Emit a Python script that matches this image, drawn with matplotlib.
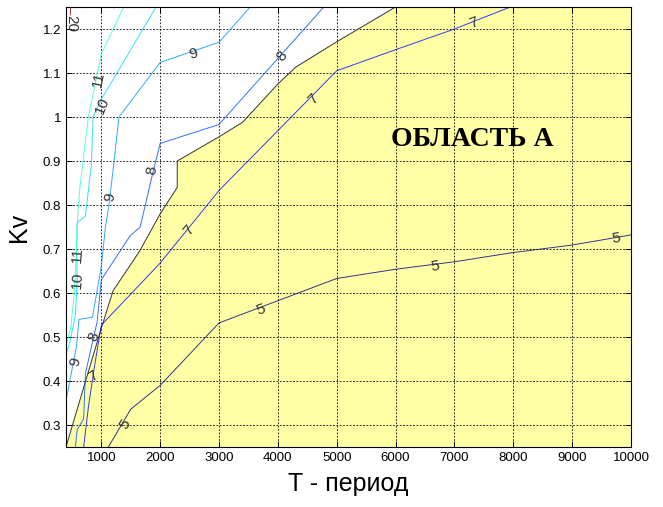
import matplotlib
matplotlib.use('Agg')
import matplotlib.pyplot as plt
from matplotlib import colors as mcolors

# boundary of region A (T, Kv); region lies below/right of this line
area_T = [400, 1000, 1200, 1650, 2000, 2290, 2290, 3000, 3400, 4000, 4300, 5000, 6000]
area_Kv = [0.25, 0.52, 0.605, 0.695, 0.78, 0.84, 0.90, 0.955, 0.988, 1.075, 1.113, 1.171, 1.25]

# contour levels of Kv(T)
levels = [5, 7, 8, 9, 10, 11, 20]

c5_T = [1120, 1500, 2000, 3000, 5000, 6000, 7000, 8000, 9000, 10000]
c5_Kv = [0.25, 0.336, 0.39, 0.532, 0.633, 0.654, 0.671, 0.692, 0.709, 0.732]

c7_T = [7950, 7000, 6000, 5000, 3000, 2000, 1000, 880, 780, 700]
c7_Kv = [1.25, 1.2, 1.153, 1.105, 0.833, 0.668, 0.527, 0.43, 0.34, 0.25]

c8_T = [4780, 3000, 2000, 1870, 1660, 1490, 1000, 930, 870, 730, 700, 590, 560]
c8_Kv = [1.25, 0.983, 0.94, 0.87, 0.75, 0.73, 0.63, 0.535, 0.50, 0.417, 0.314, 0.29, 0.25]

c9_T = [3530, 3000, 2000, 1300, 1200, 1130, 1070, 1000, 850, 620, 580, 400]
c9_Kv = [1.25, 1.17, 1.124, 1.0, 0.88, 0.80, 0.75, 0.66, 0.545, 0.54, 0.48, 0.355]

c10_T = [1930, 1000, 860, 830, 730, 590, 580, 590, 560, 470, 400]
c10_Kv = [1.25, 1.04, 1.0, 0.89, 0.775, 0.76, 0.70, 0.63, 0.55, 0.49, 0.46]

c11_T = [1380, 1000, 780, 640, 600, 580, 540, 480, 400]
c11_Kv = [1.25, 1.143, 1.0, 0.845, 0.78, 0.70, 0.60, 0.52, 0.48]

c20_T = [480, 472]
c20_Kv = [1.25, 1.232]

lines = {5: (c5_T, c5_Kv), 7: (c7_T, c7_Kv), 8: (c8_T, c8_Kv), 9: (c9_T, c9_Kv),
         10: (c10_T, c10_Kv), 11: (c11_T, c11_Kv), 20: (c20_T, c20_Kv)}

# inline labels: level, T, Kv, rotation
labels = [
    (20, 490, 1.212, -90),
    (11, 954, 1.086, 78), (10, 1012, 1.025, 68),
    (11, 592, 0.686, 86), (10, 590, 0.629, 86),
    (9, 2568, 1.143, 15), (9, 1153, 0.819, 80), (9, 558, 0.443, 75),
    (8, 4072, 1.139, 50), (8, 1862, 0.880, 82), (8, 869, 0.50, 70),
    (7, 7329, 1.215, 20), (7, 4609, 1.04, 45), (7, 2484, 0.743, 50), (7, 870, 0.41, 35),
    (5, 9738, 0.724, 8), (5, 6678, 0.661, 8), (5, 3703, 0.561, 21), (5, 1408, 0.302, 58),
]

fig = plt.figure(figsize=(6.63, 5.07), dpi=100)
ax = fig.add_axes([66 / 663, 60 / 507, 565 / 663, 440 / 507])

# filled region A
fill_T = area_T + [10000, 10000, 400]
fill_Kv = area_Kv + [1.25, 0.25, 0.25]
ax.fill(fill_T, fill_Kv, color='#ffffa6', lw=0, zorder=1)
ax.plot(area_T, area_Kv, color='#333333', lw=0.7, zorder=3)

norm = mcolors.Normalize(vmin=min(levels), vmax=max(levels))
cmap = matplotlib.colormaps['jet']
for lev in levels:
    t, k = lines[lev]
    ax.plot(t, k, color=cmap(norm(lev)), lw=0.7, alpha=0.8, zorder=3)

for lev, t, k, rot in labels:
    ax.text(t, k, str(lev), fontsize=11, family='Liberation Sans', rotation=rot,
            rotation_mode='anchor', ha='center', va='center', zorder=4, color='#333333')

ax.text(7300, 0.949, 'ОБЛАСТЬ А', fontsize=20, fontweight='bold', family='Liberation Serif',
        ha='center', va='center', zorder=4)

ax.set_xlim(400, 10000)
ax.set_ylim(0.25, 1.25)
ax.set_xticks(range(1000, 10001, 1000))
ax.set_yticks([0.3, 0.4, 0.5, 0.6, 0.7, 0.8, 0.9, 1.0, 1.1, 1.2])
ax.set_yticklabels(['0.3', '0.4', '0.5', '0.6', '0.7', '0.8', '0.9', '1', '1.1', '1.2'])
ax.tick_params(direction='in', top=True, right=True, length=4, width=0.7, labelsize=9.5)
for lab in ax.get_xticklabels() + ax.get_yticklabels():
    lab.set_family('Liberation Sans')
ax.grid(True, color='black', linestyle=(0, (2, 2)), lw=0.6, zorder=2)
ax.set_axisbelow(False)
for sp in ax.spines.values():
    sp.set_linewidth(0.8)
    sp.set_zorder(5)

ax.set_xlabel('T - период', fontsize=18, family='Liberation Sans', labelpad=6)
ax.set_ylabel('Kv', fontsize=18, family='Liberation Sans', labelpad=8)

fig.savefig('out.png', dpi=100)
